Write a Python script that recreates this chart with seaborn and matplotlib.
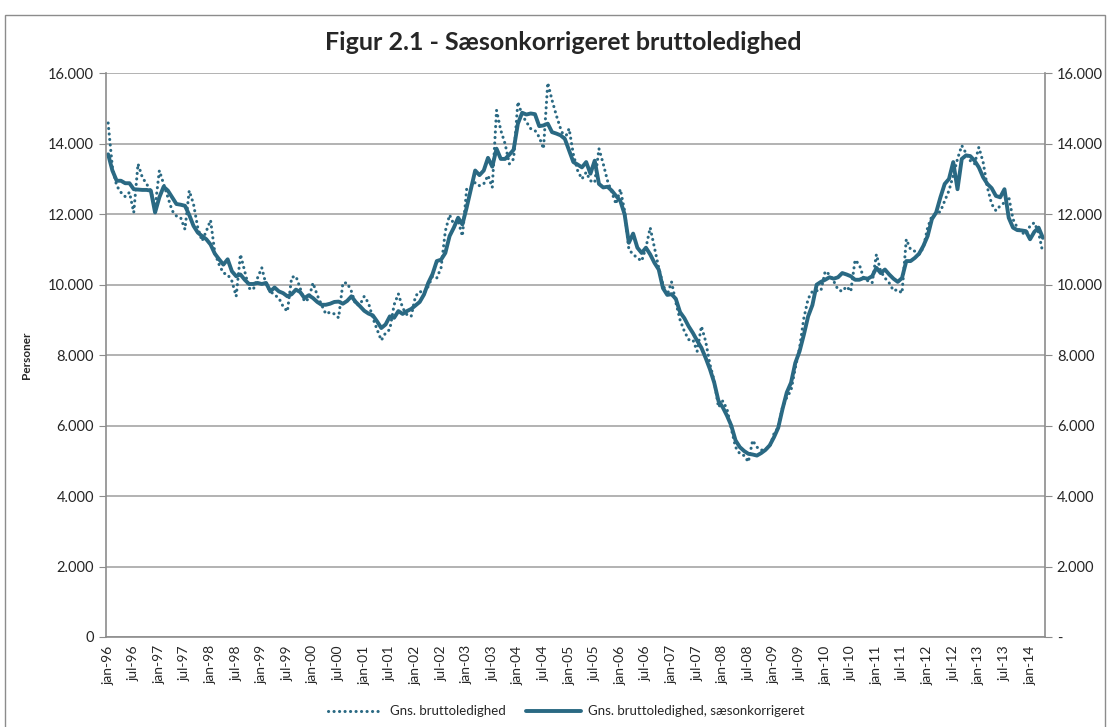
import numpy as np
import pandas as pd
import matplotlib
matplotlib.use('Agg')
import matplotlib.pyplot as plt
import seaborn as sns
from matplotlib.patches import Rectangle

# Gns. bruttoledighed (raw), monthly jan-96 .. apr-14
raw_values = [
    14590, 13330, 12810, 12620, 12500, 12620, 12050, 13430, 13050, 12860, 12670, 12190,  # 1996
    13240, 12860, 12480, 12100, 11950, 11900, 11570, 12670, 12290, 11620, 11240, 11520,  # 1997
    11830, 10900, 10570, 10330, 10290, 10100, 9670, 10860, 10380, 9900, 9860, 10190,     # 1998
    10480, 10000, 9810, 9710, 9620, 9380, 9240, 10210, 10240, 9900, 9520, 9600,          # 1999
    10050, 9700, 9430, 9170, 9220, 9170, 9060, 10050, 10050, 9810, 9430, 9430,           # 2000
    9670, 9480, 9060, 8730, 8420, 8630, 8730, 9430, 9740, 9340, 9150, 9100,              # 2001
    9670, 9810, 9760, 9950, 10240, 10190, 10480, 11520, 11980, 11710, 11810, 11380,      # 2002
    12710, 12760, 12900, 12810, 12860, 13100, 12760, 14950, 14380, 14000, 13430, 13570,  # 2003
    15190, 14810, 14620, 14430, 14380, 14190, 13860, 15730, 15240, 14810, 14430, 14140,  # 2004
    14430, 13700, 13240, 13000, 13190, 12950, 12900, 13860, 13430, 12950, 12620, 12290,  # 2005
    12710, 12100, 11000, 10860, 10760, 10670, 11050, 11620, 11050, 10480, 10000, 9710,   # 2006
    10080, 9500, 9000, 8680, 8440, 8440, 8110, 8820, 8390, 7740, 7270, 6520,             # 2007
    6700, 6470, 5910, 5390, 5200, 5150, 4970, 5580, 5390, 5300, 5340, 5390,              # 2008
    5770, 5950, 6520, 6800, 7000, 7640, 8210, 9050, 9600, 9810, 9830, 9830,              # 2009
    10380, 10290, 10100, 9860, 9810, 9950, 9810, 10700, 10570, 10190, 10110, 10050,      # 2010
    10860, 10380, 10190, 10050, 9830, 9860, 9760, 11290, 11000, 10950, 10860, 11050,     # 2011
    11620, 11950, 12000, 12080, 12380, 12670, 13100, 13570, 13950, 13730, 13520, 13430,  # 2012
    13900, 13480, 12760, 12290, 12100, 12240, 12330, 12500, 11860, 11620, 11480, 11430,  # 2013
    11670, 11760, 11480, 10900,                                                          # 2014
]

# Gns. bruttoledighed, saesonkorrigeret
sa_values = [
    13700, 13240, 12950, 12950, 12880, 12880, 12710, 12700, 12690, 12690, 12670, 12050,  # 1996
    12480, 12780, 12670, 12480, 12290, 12270, 12240, 11980, 11670, 11480, 11380, 11290,  # 1997
    11140, 10880, 10720, 10570, 10720, 10380, 10240, 10290, 10140, 10020, 10020, 10050,  # 1998
    10020, 10050, 9810, 9920, 9810, 9760, 9670, 9730, 9860, 9790, 9620, 9700,            # 1999
    9620, 9510, 9430, 9430, 9460, 9510, 9520, 9460, 9540, 9670, 9510, 9390,              # 2000
    9260, 9180, 9130, 8960, 8770, 8870, 9100, 9060, 9250, 9170, 9250, 9310,              # 2001
    9410, 9510, 9720, 10050, 10300, 10670, 10710, 10900, 11380, 11620, 11900, 11710,     # 2002
    12190, 12710, 13240, 13110, 13240, 13600, 13350, 13860, 13570, 13570, 13690, 13830,  # 2003
    14570, 14880, 14830, 14860, 14840, 14500, 14520, 14570, 14330, 14290, 14240, 14140,  # 2004
    13810, 13480, 13410, 13330, 13480, 13150, 13520, 12860, 12760, 12780, 12670, 12520,  # 2005
    12380, 12000, 11190, 11450, 11050, 10900, 11050, 10860, 10620, 10430, 9900, 9710,    # 2006
    9730, 9600, 9220, 9050, 8820, 8630, 8410, 8210, 7920, 7600, 7220, 6700,              # 2007
    6520, 6280, 6000, 5580, 5390, 5280, 5200, 5180, 5150, 5220, 5310, 5440,              # 2008
    5670, 5940, 6470, 6940, 7220, 7780, 8110, 8580, 9100, 9420, 10000, 10080,            # 2009
    10140, 10210, 10170, 10210, 10330, 10290, 10240, 10140, 10140, 10190, 10170, 10240,  # 2010
    10480, 10330, 10430, 10290, 10170, 10080, 10190, 10670, 10670, 10760, 10880, 11100,  # 2011
    11380, 11860, 12050, 12480, 12860, 13000, 13480, 12710, 13570, 13670, 13650, 13520,  # 2012
    13330, 13050, 12860, 12740, 12520, 12480, 12710, 11900, 11620, 11550, 11540, 11520,  # 2013
    11290, 11500, 11620, 11330,                                                          # 2014
]

months = pd.date_range('1996-01-01', periods=len(sa_values), freq='MS')
month_names = {1: 'jan', 7: 'jul'}
tick_pos = [i for i, m in enumerate(months) if m.month in (1, 7)]
tick_labels = [f"{month_names[months[i].month]}-{months[i].year % 100:02d}" for i in tick_pos]

y_ticks = list(range(0, 16001, 2000))
y_labels = ['{:,}'.format(v).replace(',', '.') for v in y_ticks]

df = pd.DataFrame({'idx': np.arange(len(sa_values)), 'raw': raw_values, 'sa': sa_values})

sns.set_style('white')
plt.rcParams['font.family'] = ['Lato', 'DejaVu Sans']

line_color = '#2a6983'
grid_color = '#a6a6a6'
axis_color = '#8c8c8c'

fig = plt.figure(figsize=(11.1, 7.27), dpi=100)
ax = fig.add_axes([106 / 1110, 1 - 637 / 727, (1045 - 106) / 1110, (637 - 73.3) / 727])

sns.lineplot(data=df, x='idx', y='raw', ax=ax, color=line_color, lw=2.2,
             linestyle=(0, (0.05, 1.75)), label='Gns. bruttoledighed')
sns.lineplot(data=df, x='idx', y='sa', ax=ax, color=line_color, lw=2.8,
             label='Gns. bruttoledighed, sæsonkorrigeret')
ax.lines[0].set_dash_capstyle('round')

ax.set_xlim(-0.5, len(sa_values) - 0.5)
ax.set_ylim(0, 16000)
ax.set_yticks(y_ticks)
ax.set_yticklabels(y_labels, fontsize=10.5)
ax.set_xticks(tick_pos)
ax.set_xticklabels(tick_labels, rotation=90, fontsize=10)
ax.set_xticks([p - 0.5 for p in tick_pos], minor=True)
ax.tick_params(axis='x', which='major', length=0, pad=6)
ax.tick_params(axis='x', which='minor', length=5, color=axis_color, direction='out')
ax.tick_params(axis='y', length=5, color=axis_color, direction='out', left=True)
ax.yaxis.grid(True, color=grid_color, lw=1.2)
ax.set_axisbelow(True)
ax.set_xlabel('')
ax.set_ylabel('Personer', fontsize=8.5, fontweight='bold', labelpad=12)

for side in ['left', 'bottom', 'right']:
    ax.spines[side].set_color(axis_color)
    ax.spines[side].set_linewidth(1.2)
ax.spines['top'].set_visible(False)

ax2 = ax.twinx()
ax2.set_ylim(0, 16000)
ax2.set_yticks(y_ticks)
ax2.set_yticklabels(['-'] + y_labels[1:], fontsize=10.5)
ax2.tick_params(axis='y', length=5, color=axis_color, direction='out', right=True)
for side in ax2.spines:
    ax2.spines[side].set_visible(False)
ax2.grid(False)

leg = ax.legend(loc='upper center', bbox_to_anchor=(0.49, -0.1), ncol=2, frameon=False,
                fontsize=9.5, handlelength=4.2, columnspacing=1.5, handletextpad=0.5)

fig.text(0.507, 0.942, 'Figur 2.1 - Sæsonkorrigeret bruttoledighed', ha='center', va='center',
         fontsize=18, fontweight='bold')

fig.patches.append(Rectangle((5 / 1110, -0.05), 1100 / 1110, 1 - 15 / 727 + 0.05,
                             transform=fig.transFigure, fill=False, edgecolor=axis_color, lw=1))

fig.savefig('out.png', dpi=100)
